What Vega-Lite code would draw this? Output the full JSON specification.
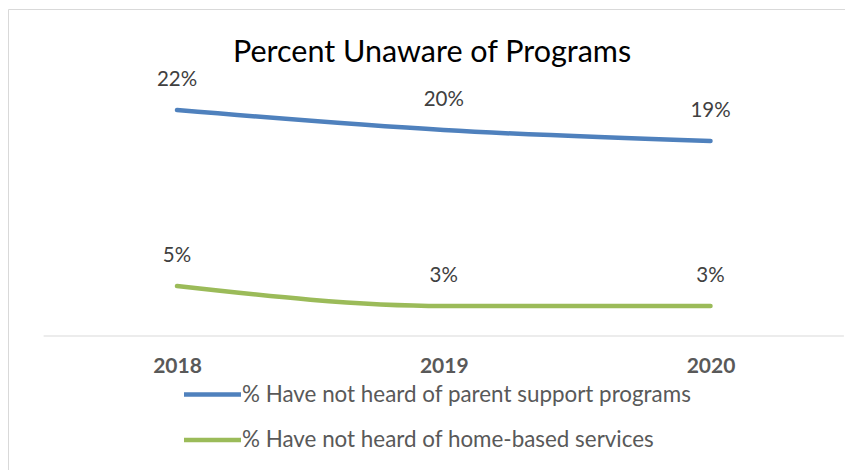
{
  "$schema": "https://vega.github.io/schema/vega-lite/v6.json",
  "width": 860,
  "height": 470,
  "autosize": {"type": "none"},
  "padding": {"left": 8, "top": 9, "right": 0, "bottom": 0},
  "background": "white",
  "config": {"view": {"stroke": "#d9d9d9", "strokeWidth": 1}, "font": "Lato"},
  "title": {
    "text": "Percent Unaware of Programs",
    "font": "Lato",
    "fontSize": 30.5,
    "fontWeight": "normal",
    "color": "#000000",
    "anchor": "middle",
    "baseline": "middle",
    "offset": -74,
    "dx": -6
  },
  "data": {
    "values": [
      {"year": 2018, "value": 22.6, "label": "22%", "series": "% Have not heard of parent support programs"},
      {"year": 2019, "value": 20.6, "label": "20%", "series": "% Have not heard of parent support programs"},
      {"year": 2020, "value": 19.5, "label": "19%", "series": "% Have not heard of parent support programs"},
      {"year": 2018, "value": 5, "label": "5%", "series": "% Have not heard of home-based services"},
      {"year": 2019, "value": 3, "label": "3%", "series": "% Have not heard of home-based services"},
      {"year": 2020, "value": 3, "label": "3%", "series": "% Have not heard of home-based services"}
    ]
  },
  "layer": [
    {
      "data": {"values": [{"a": 1}]},
      "mark": {"type": "rule", "stroke": "#d9d9d9", "strokeWidth": 1},
      "encoding": {
        "x": {
          "datum": 2017.5,
          "type": "quantitative",
          "scale": {"domain": [2017.3664, 2020.5904], "nice": false, "zero": false},
          "axis": {
            "values": [2018, 2019, 2020],
            "format": "d",
            "title": null,
            "domain": false,
            "ticks": false,
            "grid": false,
            "labelFont": "Lato",
            "labelFontWeight": "bold",
            "labelFontSize": 21,
            "labelColor": "#595959",
            "labelBaseline": "middle",
            "labelPadding": 0,
            "offset": -113
          }
        },
        "x2": {"datum": 2020.5},
        "y": {"datum": 0, "type": "quantitative", "scale": {"domain": [-14.3, 32.7], "nice": false, "zero": false}, "axis": null}
      }
    },
    {
      "mark": {"type": "line", "strokeWidth": 4.5, "strokeCap": "round", "interpolate": "monotone"},
      "encoding": {
        "x": {
          "field": "year",
          "type": "quantitative",
          "scale": {"domain": [2017.3664, 2020.5904], "nice": false, "zero": false},
          "axis": {
            "values": [2018, 2019, 2020],
            "format": "d",
            "title": null,
            "domain": false,
            "ticks": false,
            "grid": false,
            "labelFont": "Lato",
            "labelFontWeight": "bold",
            "labelFontSize": 21,
            "labelColor": "#595959",
            "labelBaseline": "middle",
            "labelPadding": 0,
            "offset": -113
          }
        },
        "y": {
          "field": "value",
          "type": "quantitative",
          "scale": {"domain": [-14.3, 32.7], "nice": false, "zero": false},
          "axis": null
        },
        "color": {
          "field": "series",
          "type": "nominal",
          "scale": {
            "domain": ["% Have not heard of parent support programs", "% Have not heard of home-based services"],
            "range": ["#4F81BD", "#9BBB59"]
          },
          "legend": {
            "orient": "none",
            "legendX": 188,
            "legendY": 369,
            "direction": "vertical",
            "title": null,
            "symbolType": "M-2,0H2",
            "symbolSize": 812,
            "symbolStrokeWidth": 4.5,
            "labelFont": "Lato",
            "labelFontSize": 22.4,
            "labelColor": "#595959",
            "labelLimit": 700,
            "labelOffset": 13,
            "rowPadding": 17.5,
            "padding": 0
          }
        }
      }
    },
    {
      "mark": {"type": "text", "dy": -30, "baseline": "middle", "fontSize": 20.5, "font": "Lato", "color": "#404040"},
      "encoding": {
        "x": {"field": "year", "type": "quantitative"},
        "y": {"field": "value", "type": "quantitative"},
        "text": {"field": "label"}
      }
    }
  ]
}
